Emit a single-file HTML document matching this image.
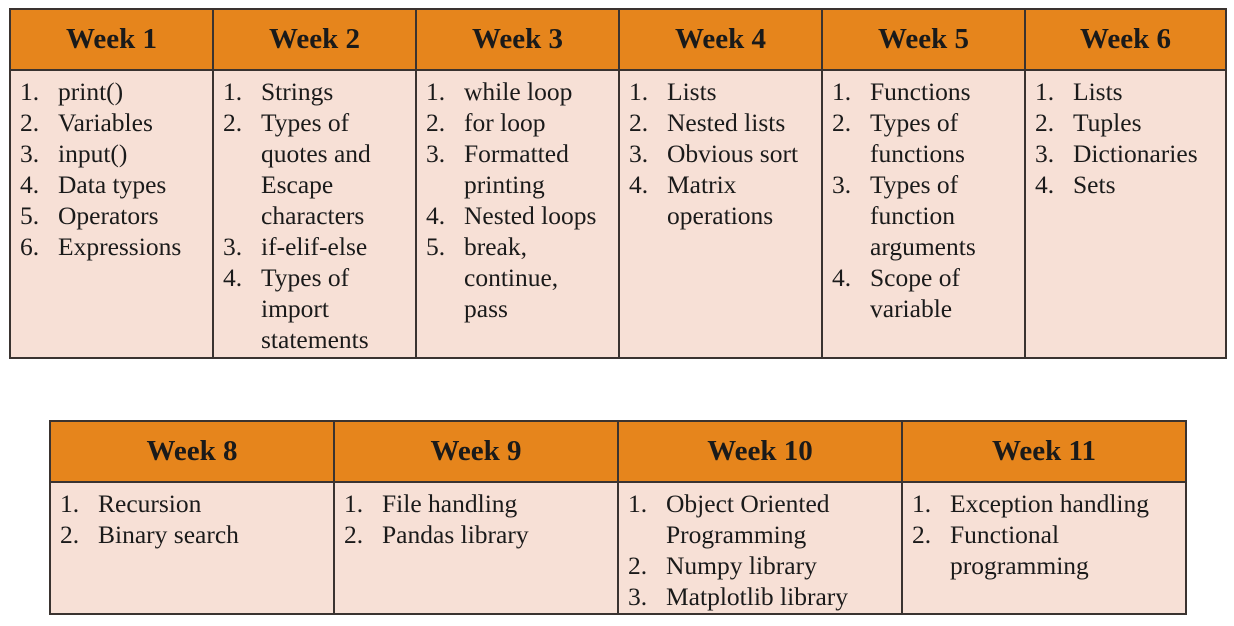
<!DOCTYPE html>
<html><head><meta charset="utf-8"><style>
body{margin:0;width:1234px;height:626px;background:#fff;position:relative;overflow:hidden;font-family:"Liberation Serif",serif;color:#1a1a1a}
.t{position:absolute;border:2px solid #3a3330;box-sizing:border-box}
.c{position:absolute;box-sizing:border-box;border-left:2px solid #3a3330}
.c.first{border-left:none}
.h{position:absolute;left:0;right:0;top:0;background:#e6851c;border-bottom:2px solid #3a3330;font-weight:bold;font-size:29px;text-align:center;box-sizing:border-box}
.b{position:absolute;left:0;right:0;bottom:0;background:#f7e0d6}
.li{position:absolute;font-size:25.5px;white-space:nowrap;line-height:31px}
.n{position:absolute;left:9px}
.x{position:absolute;left:47px}
</style></head><body>
<div id="t1" class="t" style="left:9px;top:8px;width:1218px;height:351px"></div>
<div id="t2" class="t" style="left:49px;top:420px;width:1138px;height:195px"></div>
<script>
const t1Weeks=["Week 1","Week 2","Week 3","Week 4","Week 5","Week 6"];
const t1Items=[
 [["print()"],["Variables"],["input()"],["Data types"],["Operators"],["Expressions"]],
 [["Strings"],["Types of","quotes and","Escape","characters"],["if-elif-else"],["Types of","import","statements"]],
 [["while loop"],["for loop"],["Formatted","printing"],["Nested loops"],["break,","continue,","pass"]],
 [["Lists"],["Nested lists"],["Obvious sort"],["Matrix","operations"]],
 [["Functions"],["Types of","functions"],["Types of","function","arguments"],["Scope of","variable"]],
 [["Lists"],["Tuples"],["Dictionaries"],["Sets"]]
];
const t2Weeks=["Week 8","Week 9","Week 10","Week 11"];
const t2Items=[
 [["Recursion"],["Binary search"]],
 [["File handling"],["Pandas library"]],
 [["Object Oriented","Programming"],["Numpy library"],["Matplotlib library"]],
 [["Exception handling"],["Functional","programming"]]
];
function build(tid,weeks,items,colW,headH){
  const t=document.getElementById(tid);
  weeks.forEach((w,i)=>{
    const c=document.createElement('div');
    c.className='c'+(i===0?' first':'');
    
    
    c.style.left=(i===0?0:i*colW-2)+'px';c.style.top='0';c.style.bottom='0';
    if(i===weeks.length-1)c.style.right='0';else c.style.width=(i===0?colW-2:colW)+'px';
    const h=document.createElement('div');h.className='h';
    
    
    h.style.height=headH+'px';h.style.lineHeight=(headH-2)+'px';h.textContent=w;
    const b=document.createElement('div');b.className='b';b.style.top=headH+'px';
    
    
    let line=0;
    items[i].forEach((it,k)=>{
      const d=document.createElement('div');d.className='li';
      
      
      d.style.top=(5+line*31)+'px';d.style.left='0';d.style.right='0';
      const n=document.createElement('span');n.className='n';n.textContent=(k+1)+'.';
      const x=document.createElement('span');x.className='x';x.innerHTML=it.join('<br>');
      d.appendChild(n);d.appendChild(x);b.appendChild(d);
      line+=it.length;
    });
    c.appendChild(h);c.appendChild(b);t.appendChild(c);
  });
}
build('t1',t1Weeks,t1Items,203,61);
build('t2',t2Weeks,t2Items,284,61);
</script>
</body></html>
